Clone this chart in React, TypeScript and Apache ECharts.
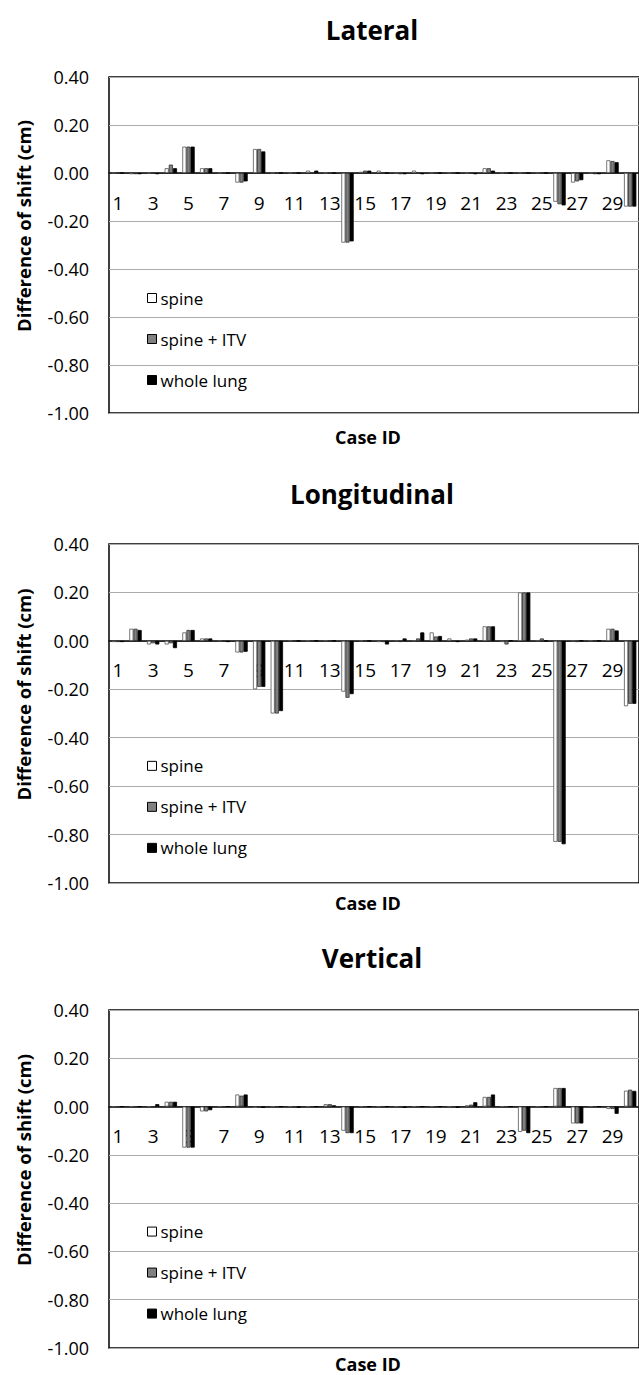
import React, { useEffect, useRef } from "react";
import * as echarts from "echarts";

const caseIds = ["1","2","3","4","5","6","7","8","9","10","11","12","13","14","15","16","17","18","19","20","21","22","23","24","25","26","27","28","29","30"];
const seriesNames = ["spine", "spine + ITV", "whole lung"];
const panelTitles = ["Lateral", "Longitudinal", "Vertical"];
const yMin = -1.0;
const yMax = 0.4;
const yStep = 0.2;

const lateralSpine = [0,-0.005,0,0.02,0.11,0.02,0,-0.04,0.1,0,0,0.01,0,-0.29,0.005,0.01,0,0.01,0,0,0,0.02,0,0,0,-0.12,-0.04,0,0.053,-0.14];
const lateralItv = [0,-0.005,0,0.035,0.11,0.02,0,-0.04,0.1,0,0,0,0,-0.29,0.01,0,-0.005,0,0,0,0,0.02,0,0,0,-0.13,-0.035,-0.005,0.05,-0.14];
const lateralLung = [0,-0.005,-0.005,0.02,0.11,0.02,0,-0.035,0.09,0,0,0.01,0,-0.285,0.01,0,-0.005,-0.005,0,0,-0.005,0.01,0,0,0,-0.135,-0.03,-0.005,0.045,-0.14];

const longSpine = [-0.005,0.05,-0.015,-0.015,0.035,0.01,0,-0.048,-0.2,-0.3,0,0,0,-0.21,0,-0.005,0,0,0.035,0.01,0.005,0.06,-0.005,0.2,0,-0.83,0,0,0.05,-0.27];
const longItv = [-0.005,0.05,-0.01,-0.01,0.045,0.01,0,-0.048,-0.19,-0.3,0,0,0,-0.235,0,-0.005,-0.005,0.01,0.018,0,0.01,0.06,-0.015,0.2,0.01,-0.83,-0.005,0,0.05,-0.26];
const longLung = [-0.005,0.045,-0.015,-0.03,0.045,0.01,-0.005,-0.045,-0.19,-0.29,0,0,0,-0.22,0,-0.015,0.01,0.035,0.02,-0.005,0.01,0.06,0,0.2,0,-0.84,0,0,0.043,-0.26];

const vertSpine = [0,0,0,0.02,-0.17,-0.02,0,0.05,-0.005,0,0,0,0.01,-0.1,0,0,0,0,0,0,0.005,0.04,0,-0.105,0,0.077,-0.07,0,-0.01,0.066];
const vertItv = [0,0,-0.005,0.02,-0.17,-0.02,0,0.045,-0.005,0,0,0,0.01,-0.11,0,0,0,0,-0.005,0,0.008,0.04,0,-0.1,0,0.077,-0.07,0,-0.01,0.07];
const vertLung = [0,0,0.01,0.02,-0.17,-0.015,0,0.05,-0.005,0,-0.005,0,0.005,-0.11,0,0,-0.005,0,0,-0.005,0.018,0.05,0,-0.11,0,0.077,-0.07,0,-0.03,0.065];

const panelData = [
  [lateralSpine, lateralItv, lateralLung],
  [longSpine, longItv, longLung],
  [vertSpine, vertItv, vertLung],
];

const FONT = "'Open Sans', sans-serif";

export default function App() {
  const ref = useRef<HTMLDivElement>(null);
  useEffect(() => {
    if (!ref.current) return;
    const chart = echarts.init(ref.current, undefined, { renderer: "svg" });

    const grids = [
      { top: 77, height: 336 },
      { top: 544, height: 339 },
      { top: 1010, height: 338 },
    ];
    const titleY = [30, 494, 958];
    const caseIdY = [437, 903, 1364];
    const fills = ["#ffffff", "#808080", "#000000"];
    const borders = ["#555555", "#333333", "#000000"];

    const grid: any[] = [];
    const xAxis: any[] = [];
    const yAxis: any[] = [];
    const series: any[] = [];
    const legend: any[] = [];
    const graphic: any[] = [];

    grids.forEach((g, i) => {
      // distance from the bottom of the plot up to the zero line
      const zeroFromBottom = g.height * ((0 - yMin) / (yMax - yMin));
      grid.push({
        left: 109, right: -3, top: g.top, height: g.height,
        show: true, borderColor: "#000", borderWidth: 1.5, backgroundColor: "transparent",
      });
      xAxis.push({
        type: "category", gridIndex: i, data: caseIds, position: "bottom",
        offset: -zeroFromBottom,
        axisLine: { show: true, onZero: false, lineStyle: { color: "#000", width: 1.5 } },
        axisTick: { show: false },
        axisLabel: { interval: 1, color: "#000", fontFamily: FONT, fontSize: 19, margin: 20 },
        splitLine: { show: false },
      });
      yAxis.push({
        type: "value", gridIndex: i, min: yMin, max: yMax, interval: yStep,
        axisLine: { show: false }, axisTick: { show: false },
        axisLabel: {
          color: "#000", fontFamily: FONT, fontSize: 18, margin: 20,
          formatter: (v: number) => v.toFixed(2),
        },
        splitLine: { show: true, lineStyle: { color: "#ababab", width: 1.2 } },
      });
      seriesNames.forEach((name, k) => {
        series.push({
          type: "bar", name, xAxisIndex: i, yAxisIndex: i,
          data: panelData[i][k],
          barGap: "0%", barCategoryGap: "30%",
          itemStyle: { color: fills[k], borderColor: borders[k], borderWidth: 0.8 },
        });
      });
      const zeroY = g.top + g.height - zeroFromBottom;
      legend.push({
        orient: "vertical", left: 142, top: zeroY + 124 - 12.5,
        itemWidth: 9, itemHeight: 9, itemGap: 24,
        data: seriesNames.map((n, k) => ({
          name: n, icon: "rect",
          itemStyle: { color: fills[k], borderColor: "#000", borderWidth: 1 },
        })),
        textStyle: { color: "#000", fontFamily: FONT, fontSize: 17, lineHeight: 17, padding: [0, 0, 0, -1] },
        selectedMode: false,
      });
      graphic.push({
        type: "text", x: 372, y: titleY[i],
        style: { text: panelTitles[i], fill: "#000", font: `bold 26px ${FONT}`, textAlign: "center", textVerticalAlign: "middle" },
      });
      graphic.push({
        type: "text", x: 368, y: caseIdY[i],
        style: { text: "Case ID", fill: "#000", font: `bold 18px ${FONT}`, textAlign: "center", textVerticalAlign: "middle" },
      });
      graphic.push({
        type: "text", x: 23, y: g.top + g.height / 2 - 19, rotation: Math.PI / 2,
        style: { text: "Difference of shift (cm)", fill: "#000", font: `bold 18.5px ${FONT}`, textAlign: "center", textVerticalAlign: "middle" },
      });
    });

    chart.setOption({
      animation: false,
      backgroundColor: "#fff",
      grid, xAxis, yAxis, series, legend, graphic,
    });
    return () => chart.dispose();
  }, []);
  return <div ref={ref} style={{ position: "fixed", left: 0, top: 0, width: 639, height: 1375 }} />;
}
